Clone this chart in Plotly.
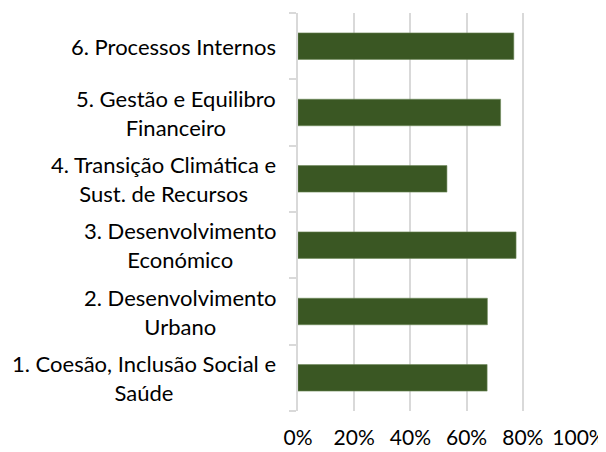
import plotly.graph_objects as go

categories = [
    "1. Coesão, Inclusão Social e<br>Saúde",
    "2. Desenvolvimento<br>Urbano",
    "3. Desenvolvimento<br>Económico",
    "4. Transição Climática e<br>Sust. de Recursos",
    "5. Gestão e Equilibro<br>Financeiro",
    "6. Processos Internos",
]
values = [0.673, 0.674, 0.776, 0.530, 0.721, 0.768]
x_ticks = [0, 0.2, 0.4, 0.6, 0.8, 1.0]

FONT = "Lato"
bar_color = "#3a5723"

fig = go.Figure(
    go.Bar(
        y=categories,
        x=values,
        orientation="h",
        marker=dict(color=bar_color, line=dict(color="#6f8a5a", width=0.6)),
        width=0.4,
    )
)

for c in categories:
    fig.add_annotation(
        x=0, xref="paper", y=c, yref="y",
        text=c, showarrow=False, xanchor="right", align="center",
        xshift=-20, font=dict(family=FONT, size=22, color="#000000"),
    )

# page body has an 8px default margin, so the figure is offset by (8, 8)
fig.update_layout(
    width=598, height=444,
    margin=dict(l=290, r=27, t=5, b=41),
    paper_bgcolor="white", plot_bgcolor="white",
    showlegend=False,
    font=dict(family=FONT, size=21, color="#000000"),
    xaxis=dict(
        range=[0, 1.0], tickvals=x_ticks, tickformat=".0%",
        showgrid=True, gridcolor="#d9d9d9", gridwidth=1.5,
        zeroline=False, showline=False, ticks="outside", ticklen=8,
        tickcolor="rgba(0,0,0,0)", automargin=False,
        tickfont=dict(family=FONT, size=21, color="#000000"),
    ),
    yaxis=dict(
        type="category", categoryorder="array", categoryarray=categories,
        showticklabels=False, tickson="boundaries", ticks="outside",
        ticklen=7, tickcolor="#d9d9d9", tickwidth=1.5, automargin=False,
        showline=True, linecolor="#d9d9d9", linewidth=1.5,
        showgrid=False, zeroline=False,
    ),
)

fig.write_html("out.html")
